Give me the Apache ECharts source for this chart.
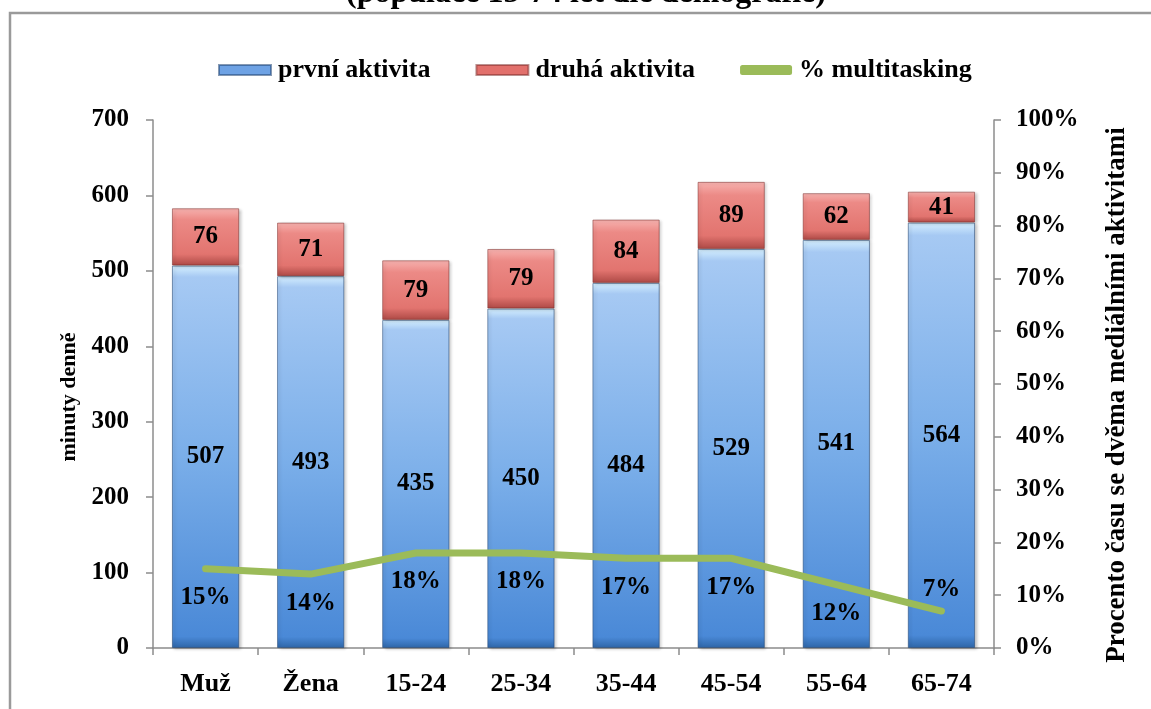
<!DOCTYPE html>
<html>
<head>
<meta charset="utf-8">
<script src="https://cdn.jsdelivr.net/npm/echarts@6/dist/echarts.min.js"></script>
<style>
  html, body { margin: 0; padding: 0; background: #fff; }
  #chart { width: 1151px; height: 709px; }
</style>
</head>
<body>
<div id="chart"></div>
<script>
// Demographic groups on the category axis
const categories = ['Muž', 'Žena', '15-24', '25-34', '35-44', '45-54', '55-64', '65-74'];
// Minutes per day: primary media activity
const prvniAktivita = [507, 493, 435, 450, 484, 529, 541, 564];
// Minutes per day: secondary (parallel) media activity
const druhaAktivita = [76, 71, 79, 79, 84, 89, 62, 41];
// Share of time spent with two media at once (%)
const multitasking = [15, 14, 18, 18, 17, 17, 12, 7];

const FONT = '"Liberation Serif", "Times New Roman", serif';

const chart = echarts.init(document.getElementById('chart'));

const blueFill = new echarts.graphic.LinearGradient(0, 0, 0, 1, [
  { offset: 0, color: '#d6f0ff' },
  { offset: 0.03, color: '#a6c9f3' },
  { offset: 0.5, color: '#7aaee9' },
  { offset: 0.97, color: '#4a89d7' },
  { offset: 1, color: '#2e66a8' }
]);
const redFill = new echarts.graphic.LinearGradient(0, 0, 0, 1, [
  { offset: 0, color: '#f7b3b0' },
  { offset: 0.2, color: '#ec8a86' },
  { offset: 0.8, color: '#e2746f' },
  { offset: 1, color: '#ad4945' }
]);

const valueLabel = {
  show: true,
  position: 'inside',
  fontFamily: FONT,
  fontWeight: 'bold',
  fontSize: 25,
  color: '#000'
};

const barShadow = { shadowColor: 'rgba(0,0,0,0.22)', shadowBlur: 3, shadowOffsetX: 2, shadowOffsetY: 1 };

const axisGray = { color: '#8c8c8c', width: 1.5 };

chart.setOption({
  animation: false,
  graphic: [
    {
      type: 'rect',
      shape: { x: 10, y: 13, width: 1300, height: 900 },
      style: { fill: 'none', stroke: '#9a9a9a', lineWidth: 2.5 },
      z: -10
    },
    {
      type: 'text',
      x: 586,
      y: -6,
      style: {
        text: '(populace 15-74 let dle demografie)',
        font: 'bold 32px ' + FONT,
        fill: '#000',
        textAlign: 'center',
        textVerticalAlign: 'middle'
      }
    }
  ],
  legend: {
    top: 52,
    left: 213,
    itemGap: 45,
    itemWidth: 52,
    itemHeight: 10,
    textStyle: { fontFamily: FONT, fontWeight: 'bold', fontSize: 26, color: '#000', padding: [0, 0, 0, 2] },
    data: [
      { name: 'první aktivita', icon: 'rect', itemStyle: { color: '#6ea2e4' } },
      { name: 'druhá aktivita', icon: 'rect', itemStyle: { color: '#e2706c' } },
      { name: '% multitasking', icon: 'roundRect', itemStyle: { color: '#9bbb59' } }
    ]
  },
  grid: { left: 153, right: 157, top: 120, bottom: 61 },
  xAxis: {
    type: 'category',
    data: categories,
    axisLine: { lineStyle: axisGray },
    axisTick: { show: true, length: 7, lineStyle: axisGray },
    axisLabel: { fontFamily: FONT, fontWeight: 'bold', fontSize: 26, color: '#000', margin: 23 }
  },
  yAxis: [
    {
      type: 'value',
      min: 0, max: 700, interval: 100,
      name: 'minuty denně',
      nameLocation: 'middle',
      nameRotate: 90,
      nameGap: 70,
      nameTextStyle: { fontFamily: FONT, fontWeight: 'bold', fontSize: 22, color: '#000', padding: [0, 26, 0, 0] },
      axisLine: { show: true, lineStyle: axisGray },
      axisTick: { show: true, length: 7, lineStyle: axisGray },
      splitLine: { show: false },
      axisLabel: { fontFamily: FONT, fontWeight: 'bold', fontSize: 25, color: '#000', margin: 24 }
    },
    {
      type: 'value',
      min: 0, max: 100, interval: 10,
      position: 'right',
      name: 'Procento času se dvěma mediálními aktivitami',
      nameLocation: 'middle',
      nameRotate: 90,
      nameGap: 110,
      nameTextStyle: { fontFamily: FONT, fontWeight: 'bold', fontSize: 27, color: '#000', padding: [0, 22, 0, 0] },
      axisLine: { show: true, lineStyle: axisGray },
      axisTick: { show: true, length: 7, lineStyle: axisGray },
      splitLine: { show: false },
      axisLabel: { fontFamily: FONT, fontWeight: 'bold', fontSize: 25, color: '#000', margin: 22, formatter: '{value}%' }
    }
  ],
  series: [
    {
      name: 'první aktivita',
      type: 'bar',
      stack: 'min',
      barWidth: '64%',
      data: prvniAktivita,
      itemStyle: Object.assign({ color: blueFill, borderColor: 'rgba(35,70,115,0.55)', borderWidth: 1 }, barShadow),
      label: valueLabel
    },
    {
      name: 'druhá aktivita',
      type: 'bar',
      stack: 'min',
      barWidth: '64%',
      data: druhaAktivita,
      itemStyle: Object.assign({ color: redFill, borderColor: 'rgba(120,40,38,0.5)', borderWidth: 1 }, barShadow),
      label: valueLabel
    },
    {
      name: '% multitasking',
      type: 'line',
      yAxisIndex: 1,
      data: multitasking.map((v, i) => {
        const last = i === multitasking.length - 1;
        return { value: v, label: { position: last ? 'top' : 'bottom', distance: last ? 8 : 16 } };
      }),
      symbol: 'circle',
      symbolSize: 1,
      showSymbol: true,
      z: 5,
      lineStyle: { color: '#9bbb59', width: 7, cap: 'round', join: 'round' },
      itemStyle: { color: '#9bbb59' },
      label: {
        show: true,
        distance: 16,
        formatter: p => p.value + '%',
        fontFamily: FONT,
        fontWeight: 'bold',
        fontSize: 25,
        color: '#000'
      }
    }
  ]
});
</script>
</body>
</html>
